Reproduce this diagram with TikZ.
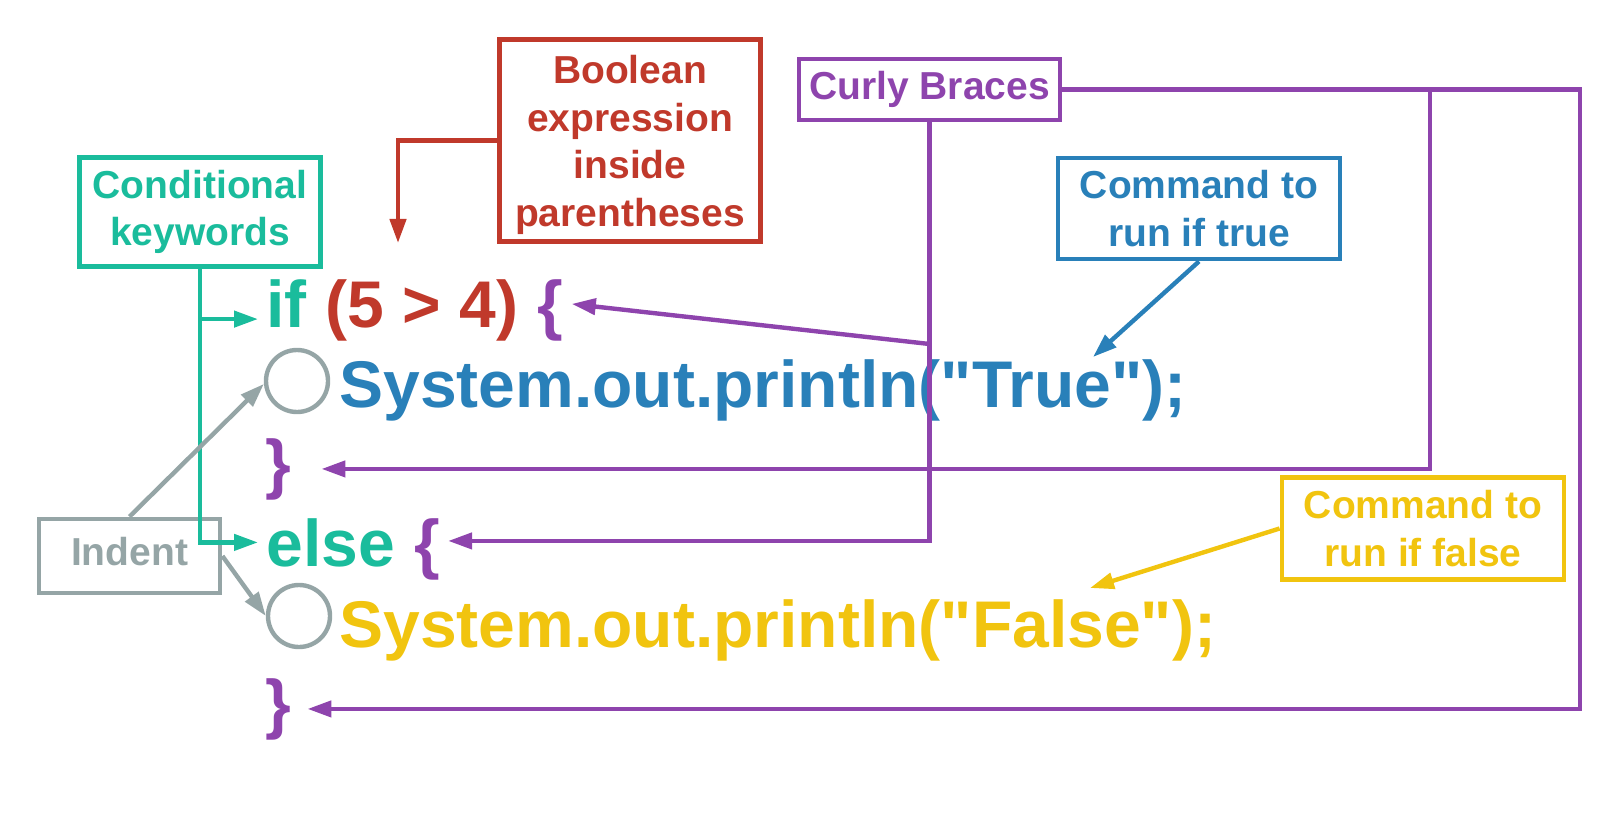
\documentclass[tikz,border=0pt]{standalone}
\usepackage{fontspec}
\setmainfont{Liberation Sans}
\usetikzlibrary{positioning,arrows.meta}
\definecolor{kwteal}{HTML}{1ABC9C}
\definecolor{boolred}{HTML}{C0392B}
\definecolor{bracepurple}{HTML}{8E44AD}
\definecolor{trueblue}{HTML}{2980B9}
\definecolor{falseyellow}{HTML}{F1C40F}
\definecolor{indentgray}{HTML}{95A5A6}
\newcommand{\codefont}{\fontsize{33}{40}\selectfont\bfseries}
\newcommand{\tagfont}{\fontsize{19.5}{23.75}\selectfont\bfseries}
\tikzset{
  tagbox/.style={draw, line width=2.4pt, font=\tagfont, align=center, inner sep=0pt},
  codetext/.style={font=\codefont, inner sep=0pt, anchor=base west},
  pointer/.style={-{Triangle[length=12pt, width=8pt]}, line width=2.2pt},
  indentmark/.style={draw=indentgray, circle, line width=2.2pt, minimum size=31pt, inner sep=0pt}
}

\begin{document}
\begin{tikzpicture}[x=0.5pt, y=-0.5pt]
  \useasboundingbox (0,0) rectangle (1620,818);

  % code lines
  \node[codetext, text=kwteal] (kwif) at (266,327) {if};
  \node[codetext, text=boolred, base right=9.2pt of kwif] (cond) {(5 > 4)};
  \node[codetext, text=bracepurple, base right=9.2pt of cond] (ob1) {\{};
  \node[codetext, text=trueblue] (truecmd) at (339,407) {System.out.println(\textquotedbl True\textquotedbl);};
  \node[codetext, text=bracepurple] (cb1) at (265,486) {\}};
  \node[codetext, text=kwteal] (kwelse) at (266,566) {else};
  \node[codetext, text=bracepurple, base right=9.2pt of kwelse] (ob2) {\{};
  \node[codetext, text=falseyellow] (falsecmd) at (339,647) {System.out.println(\textquotedbl False\textquotedbl);};
  \node[codetext, text=bracepurple] (cb2) at (265,726) {\}};

  % indent marks
  \node[indentmark] (ind1) at (297,381) {};
  \node[indentmark] (ind2) at (299,616) {};

  % labels
  \node[tagbox, draw=kwteal, text=kwteal, minimum width=120.5pt, minimum height=54.3pt] (kw) at (200,212) {Conditional\\keywords};
  \node[tagbox, draw=boolred, text=boolred, minimum width=130.5pt, minimum height=101pt, text height=90pt] (bool) at (630,140.5) {Boolean\\expression\\inside\\parentheses};
  \node[tagbox, draw=bracepurple, text=bracepurple, minimum width=130.5pt, minimum height=30.5pt] (curly) at (929.5,89.5) {Curly Braces};
  \node[tagbox, draw=trueblue, text=trueblue, minimum width=141pt, minimum height=50.5pt] (truetag) at (1199,208.5) {Command to\\run if true};
  \node[tagbox, draw=falseyellow, text=falseyellow, minimum width=141pt, minimum height=51pt] (falsetag) at (1423,528.5) {Command to\\run if false};
  \node[tagbox, draw=indentgray, text=indentgray, minimum width=90.5pt, minimum height=37pt, text depth=5pt] (indent) at (129.5,556) {Indent};

  \coordinate (iftip) at ([xshift=-4pt, yshift=-8pt]kwif.west);
  \coordinate (condtip) at (398,243);
  \coordinate (fork) at (1430,89.5);
  \coordinate (tap) at (929.5,344);
  \coordinate (truetip) at (1093,357);
  \coordinate (falsetip) at (1090,588);

  % keywords
  \draw[pointer, kwteal] (kw.south) |- ([xshift=-4pt]kwelse.west);
  \draw[pointer, kwteal] (kw.south |- iftip) -- (iftip);
  % condition
  \draw[pointer, boolred] (bool.west) -| (condtip);
  % braces
  \draw[pointer, bracepurple] (curly.east) -- (1580,89.5) |- ([xshift=8pt]cb2.east);
  \draw[pointer, bracepurple] (fork) |- ([xshift=15pt]cb1.east);
  \draw[pointer, bracepurple] (curly.south) |- ([xshift=4pt, yshift=4pt]ob2.east);
  \draw[pointer, bracepurple] (tap) -- ([xshift=4pt, yshift=3pt]ob1.east);
  % commands
  \draw[pointer, trueblue] (truetag.south) -- (truetip);
  \draw[pointer, falseyellow] (falsetag.west) -- (falsetip);
  % indent
  \draw[pointer, indentgray] (indent.north) -- (ind1.185);
  \draw[pointer, indentgray] (indent.east) -- (ind2.west);
\end{tikzpicture}
\end{document}
